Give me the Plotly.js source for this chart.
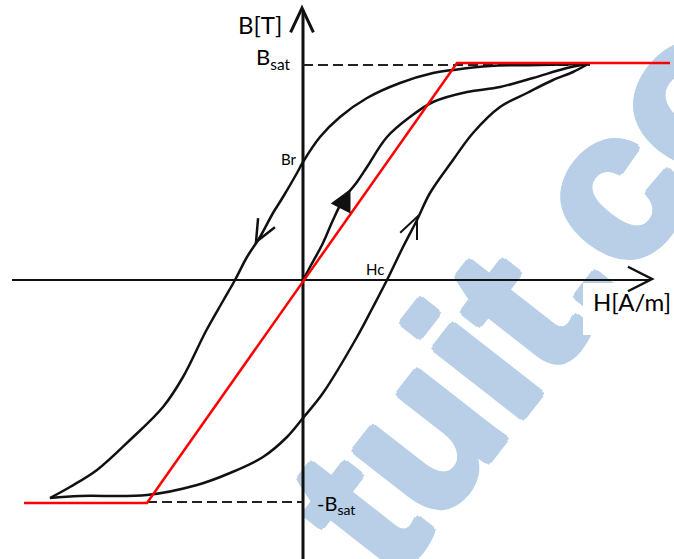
<!DOCTYPE html>
<html>
<head>
<meta charset="utf-8">
<script src="https://cdn.plot.ly/plotly-3.0.1.min.js"></script>
<style>
  html, body { margin: 0; padding: 0; background: #ffffff; }
  #wrap { position: relative; width: 674px; height: 559px; overflow: hidden; }
  #mark, #chart { position: absolute; left: 0; top: 0; width: 674px; height: 559px; }
</style>
</head>
<body>
<div id="wrap">
  <div id="mark"></div>
  <div id="chart"></div>
</div>
<script>
// Hysteresis loop B(H), arbitrary units (origin where the axes cross)

// descending branch: from positive saturation back to negative saturation
const descH = [2.85, 2.37, 1.87, 1.50, 1.30, 0.97, 0.64, 0.37, 0.17, 0.00, -0.06, -0.20, -0.30, -0.43, -0.56, -0.68, -0.80, -0.97, -1.20, -1.40, -1.73, -2.06, -2.33, -2.53];
const descB = [2.16, 2.15, 2.14, 2.10, 2.07, 1.97, 1.82, 1.63, 1.43, 1.18, 1.07, 0.83, 0.67, 0.43, 0.23, 0.00, -0.21, -0.51, -0.97, -1.27, -1.60, -1.90, -2.07, -2.18];

// ascending branch: from negative saturation up to positive saturation
const ascH = [-2.53, -2.23, -1.56, -1.06, -0.73, -0.40, -0.16, 0.00, 0.20, 0.54, 0.70, 0.84, 1.00, 1.14, 1.27, 1.50, 1.70, 1.97, 2.24, 2.50, 2.70, 2.85];
const ascB = [-2.18, -2.16, -2.15, -2.05, -1.93, -1.77, -1.57, -1.38, -1.13, -0.57, -0.27, 0.00, 0.33, 0.60, 0.87, 1.20, 1.47, 1.73, 1.87, 2.00, 2.08, 2.16];

// first magnetization curve from the demagnetized state
const initH = [0.00, 0.07, 0.20, 0.30, 0.40, 0.54, 0.64, 0.84, 1.07, 1.30, 1.64, 1.97, 2.30, 2.64, 2.85];
const initB = [0.00, 0.13, 0.37, 0.60, 0.80, 0.98, 1.13, 1.43, 1.63, 1.78, 1.88, 1.93, 2.02, 2.12, 2.16];

// idealized (piecewise linear) characteristic
const idealH = [-2.79, -1.56, 1.54, 3.67];
const idealB = [-2.23, -2.23, 2.17, 2.17];

// saturation levels
const bSat = 2.15;
const bSatNeg = -2.22;
const bSatLineH = [0.00, 2.87];
const bSatNegLineH = [-1.56, 0.00];

// axis extents
const hAxisEnds = [-2.91, 3.47];
const bAxisEnds = [-2.80, 2.70];
const xRange = [-3.03, 3.71];
const yRange = [-2.79, 2.80];

// axis and point labels
const labelText = ['B[T]', 'B<sub>sat</sub>', 'Br', 'Hc', 'H[A/m]', '-B<sub>sat</sub>'];

const BLACK = '#111111';
const MARK_BLUE = '#b8cfe7';

function chevron(tipX, tipY, dirDeg, len, halfDeg, width, filled) {
  const a1 = (dirDeg + 180 - halfDeg) * Math.PI / 180;
  const a2 = (dirDeg + 180 + halfDeg) * Math.PI / 180;
  const p1 = [tipX + len * Math.cos(a1), tipY + len * Math.sin(a1)];
  const p2 = [tipX + len * Math.cos(a2), tipY + len * Math.sin(a2)];
  return {
    type: 'path', xref: 'x', yref: 'y', layer: 'above',
    path: `M${p1[0]},${p1[1]} L${tipX},${tipY} L${p2[0]},${p2[1]}` + (filled ? ' Z' : ''),
    line: { color: BLACK, width: width },
    fillcolor: filled ? BLACK : 'rgba(0,0,0,0)'
  };
}

const hiddenAxis = (range) => ({
  range: range, visible: false, showgrid: false, zeroline: false,
  showticklabels: false, fixedrange: true
});

// thicken the mark's strokes a little with a ring of hard shadows
const ring = [[4, 0], [-4, 0], [0, 4], [0, -4], [3, 3], [-3, -3], [3, -3], [-3, 3]]
  .map(([dx, dy]) => `${dx}px ${dy}px 0 ${MARK_BLUE}`).join(', ');

// background layer: the light blue site mark
const markLayout = {
  width: 674, height: 559,
  margin: { l: 0, r: 0, t: 0, b: 0, pad: 0 },
  paper_bgcolor: '#ffffff', plot_bgcolor: '#ffffff',
  xaxis: hiddenAxis(xRange), yaxis: hiddenAxis(yRange),
  showlegend: false,
  annotations: [{
    x: 2.25, y: -0.11, xref: 'x', yref: 'y',
    text: '<b>tuit.co</b>', showarrow: false,
    xanchor: 'center', yanchor: 'middle',
    textangle: -52,
    font: { family: '"Liberation Sans", Arial, sans-serif', size: 210, color: MARK_BLUE, shadow: ring }
  }]
};
Plotly.newPlot('mark', [], markLayout, { staticPlot: true, displayModeBar: false });

// foreground layer: axes, loop, ideal characteristic and labels
const traces = [
  { x: hAxisEnds, y: [0, 0], mode: 'lines', line: { color: BLACK, width: 2 }, hoverinfo: 'skip' },
  { x: [0, 0], y: bAxisEnds, mode: 'lines', line: { color: BLACK, width: 3 }, hoverinfo: 'skip' },
  { x: bSatLineH, y: [bSat, bSat], mode: 'lines', line: { color: '#222222', width: 2, dash: '10px,5px' }, hoverinfo: 'skip' },
  { x: bSatNegLineH, y: [bSatNeg, bSatNeg], mode: 'lines', line: { color: '#222222', width: 2, dash: '10px,5px' }, hoverinfo: 'skip' },
  { x: descH, y: descB, mode: 'lines', line: { color: BLACK, width: 2.5, shape: 'spline', smoothing: 1 } },
  { x: ascH, y: ascB, mode: 'lines', line: { color: BLACK, width: 2.5, shape: 'spline', smoothing: 1 } },
  { x: initH, y: initB, mode: 'lines', line: { color: BLACK, width: 2.5, shape: 'spline', smoothing: 1 } },
  { x: idealH, y: idealB, mode: 'lines', line: { color: '#ff0000', width: 2.5 } }
];

const labelFont = (size) => ({ family: 'Lato, "Open Sans", sans-serif', size: size, color: '#000000' });

const layout = {
  width: 674, height: 559,
  margin: { l: 0, r: 0, t: 0, b: 0, pad: 0 },
  paper_bgcolor: 'rgba(0,0,0,0)', plot_bgcolor: 'rgba(0,0,0,0)',
  xaxis: hiddenAxis(xRange), yaxis: hiddenAxis(yRange),
  showlegend: false,
  shapes: [
    // white patch behind the H axis label
    { type: 'rect', xref: 'x', yref: 'y', layer: 'below', x0: 2.80, x1: 3.75, y0: -0.03, y1: -0.55,
      line: { width: 0 }, fillcolor: '#ffffff' },
    chevron(-0.01, 2.72, 90, 0.27, 25, 3, false),
    chevron(3.49, 0.01, 0, 0.27, 27, 2.5, false),
    chevron(-0.47, 0.38, -118.5, 0.24, 23.5, 2.5, false),
    chevron(0.46, 0.88, 63, 0.19, 27, 3, true),
    chevron(1.14, 0.63, 66.5, 0.23, 23.5, 2, false)
  ],
  annotations: [
    { x: -0.435, y: 2.56, text: labelText[0], font: labelFont(24) },
    { x: -0.11, y: 2.22, text: labelText[1], font: labelFont(22), xanchor: 'right' },
    { x: -0.14, y: 1.215, text: labelText[2], font: labelFont(15) },
    { x: 0.72, y: 0.115, text: labelText[3], font: labelFont(15) },
    { x: 3.29, y: -0.21, text: labelText[4], font: labelFont(24) },
    { x: 0.12, y: -2.24, text: labelText[5], font: labelFont(20), xanchor: 'left' }
  ].map(a => Object.assign({ xref: 'x', yref: 'y', showarrow: false, xanchor: 'center', yanchor: 'middle' }, a))
};

Plotly.newPlot('chart', traces, layout, { staticPlot: true, displayModeBar: false });
</script>
</body>
</html>
